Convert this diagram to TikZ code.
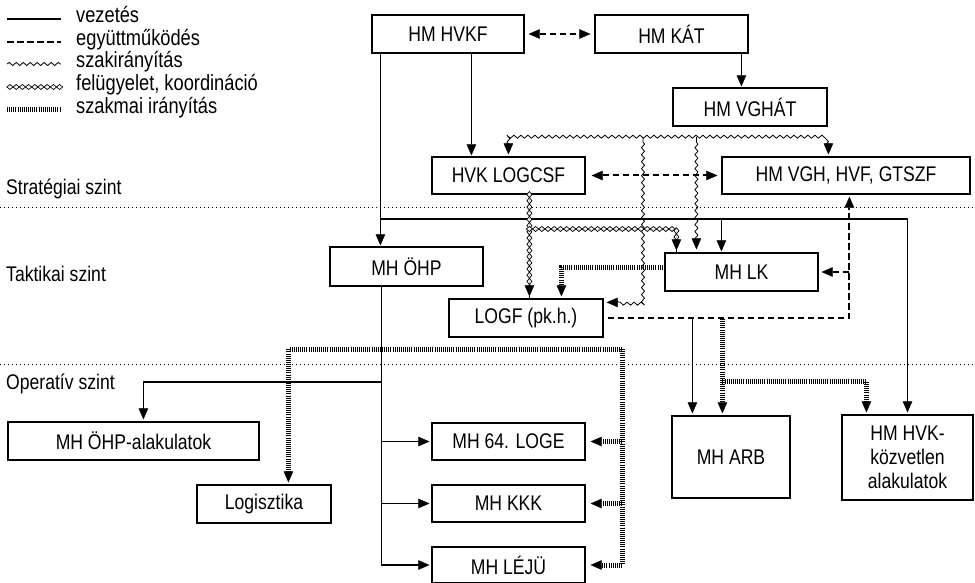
\documentclass[tikz,border=0pt]{standalone}
\usepackage{fontspec}
\setmainfont{Liberation Sans}[FakeStretch=0.83]
\usetikzlibrary{arrows.meta,decorations.pathmorphing,decorations.shapes,shapes.geometric,calc}
\begin{document}
\begin{tikzpicture}[x=1pt,y=-1pt,
  font=\fontsize{21.2}{24}\selectfont,
  >={Triangle[length=11pt,width=9.5pt,line width=0.4pt]},
  box/.style={draw, line width=1.2pt, inner sep=0pt, align=center, minimum height=38pt},
  vez/.style={line width=1.3pt},
  egy/.style={line width=2pt, dash pattern=on 6.5pt off 3.5pt},
  szak/.style={line width=0.8pt, decorate, decoration={snake, amplitude=1.5pt, segment length=7pt, pre length=5pt, post length=9pt}},
  fel/.style={line width=0.01pt, preaction={draw=black, line width=0.7pt, fill=white, decorate,
     decoration={shape backgrounds, shape=diamond, shape width=6.2pt, shape height=5pt, shape sep={6.2pt, between centers}, post length=9pt}}},
  felleg/.style={draw=black, line width=0.7pt, fill=white, decorate,
     decoration={shape backgrounds, shape=diamond, shape width=6.2pt, shape height=5pt, shape sep={6.2pt, between centers}}},
  szm/.style={line width=5pt, dash pattern=on 0.6pt off 1.5pt},
  lvl/.style={line width=0.8pt, dash pattern=on 1pt off 3pt},
  leg/.style={anchor=west, inner sep=0pt, text height=14pt, text depth=4pt},
]
\useasboundingbox (0,0) rectangle (975,583);
\fill[white] (0,0) rectangle (975,583);

% level lines
\draw[lvl] (0,207) -- (975,207);
\draw[lvl] (0,364) -- (975,364);
\node[leg] (s1) at (6,189) {Stratégiai szint};
\node[leg] (s2) at (6,276) {Taktikai szint};
\node[leg] (s3) at (6,384) {Operatív szint};

% legend
\draw[vez] (7,19) -- (61,19);
\draw[egy] (7,42) -- (61,42);
\draw[line width=0.8pt, decorate, decoration={snake, amplitude=1.5pt, segment length=7pt}] (7,64) -- (61,64);
\path[felleg] (10,87) -- (62,87);
\draw[szm] (7,110) -- (61,110);
\begin{scope}[font=\fontsize{22}{24}\selectfont]
\node[leg] (t1) at (76,18) {vezetés};
\node[leg] (t2) at (76,41) {együttműködés};
\node[leg] (t3) at (76,63) {szakirányítás};
\node[leg] (t4) at (76,86) {felügyelet, koordináció};
\node[leg] (t5) at (76,109) {szakmai irányítás};
\end{scope}

% boxes
\node[box, minimum width=152pt] (hvkf) at (448,34) {HM HVKF};
\node[box, minimum width=153pt] (kat) at (671.5,34) {HM KÁT};
\node[box, minimum width=154pt] (vghat) at (750,107) {HM VGHÁT};
\node[box, minimum width=153pt, minimum height=37pt] (logcsf) at (508.5,175.5) {HVK LOGCSF};
\node[box, minimum width=248pt, minimum height=37pt] (vgh) at (846,175.5) {HM VGH, HVF, GTSZF};
\node[box, minimum width=153pt, minimum height=39pt] (ohp) at (406.5,266.5) {MH ÖHP};
\node[box, minimum width=153pt] (lk) at (741.5,272) {MH LK};
\node[box, minimum width=154pt] (logf) at (526,318) {LOGF (pk.h.)};
\node[box, minimum width=251pt] (ohpal) at (133.5,441) {MH ÖHP-alakulatok};
\node[box, minimum width=134pt] (logi) at (264,504) {Logisztika};
\node[box, minimum width=153pt, minimum height=37pt] (loge) at (508.5,441.5) {MH 64. LOGE};
\node[box, minimum width=153pt, minimum height=37pt] (kkk) at (508.5,503.5) {MH KKK};
\node[box, minimum width=153pt, minimum height=36pt] (leju) at (508.5,565) {MH LÉJÜ};
\node[box, minimum width=118pt, minimum height=82pt] (arb) at (731,457) {MH ARB};
\node[box, minimum width=131pt, minimum height=85pt] (hvkkoz) at (907.5,457.5) {HM HVK-\\közvetlen\\alakulatok};

% helper coordinates
\coordinate (jt) at (381,219);
\coordinate (dY) at (0,229);
\coordinate (wY) at (0,137);
\coordinate (dashY) at (0,319);
\coordinate (hY) at (0,381);
\coordinate (oY) at (0,382);
\coordinate (szR) at (622,349);
\coordinate (wv1) at (643,137);
\coordinate (hvkfL) at ([xshift=9pt]hvkf.south west);
\coordinate (hvkfR) at ([xshift=100pt]hvkf.south west);
\coordinate (katB) at ([xshift=147pt]kat.south west);
\coordinate (csfD) at ([xshift=98pt]logcsf.south west);
\coordinate (csfW) at ([xshift=77pt]logcsf.north west);
\coordinate (vghW) at ([xshift=107pt]vgh.north west);
\coordinate (vghD) at ([xshift=128pt]vgh.south west);
\coordinate (lkD) at ([xshift=12pt]lk.north west);
\coordinate (lkW) at ([xshift=32pt]lk.north west);
\coordinate (lkV) at ([xshift=57pt]lk.north west);
\coordinate (ohpB) at ([xshift=52pt]ohp.south west);
\coordinate (lfS) at ([yshift=-4pt]logf.north east);
\coordinate (lfH) at ([xshift=113pt]logf.north west);
\coordinate (oaA) at ([xshift=136pt]ohpal.north west);
\coordinate (lgA) at ([xshift=92pt]logi.north west);
\coordinate (arbV) at ([xshift=21pt]arb.north west);
\coordinate (arbH) at ([xshift=51pt]arb.north west);
\coordinate (hkH) at ([xshift=25pt]hvkkoz.north west);

% vezetés
\draw[vez,->,shorten >=1pt] (hvkfL) -- (hvkfL |- ohp.north);
\draw[vez,->,shorten >=1pt] (hvkfR) -- (hvkfR |- logcsf.north);
\draw[vez,->,shorten >=1pt] (katB) -- (katB |- vghat.north);
\draw[vez,->,shorten >=2pt] (hvkfL |- jt) -| (hvkkoz.north);
\draw[vez,->,shorten >=1pt] (lkV |- jt) -- (lkV);
\draw[vez,->,shorten >=2pt] (ohpB) |- (leju.west);
\draw[vez,->,shorten >=2pt] (ohpB |- loge.west) -- (loge.west);
\draw[vez,->,shorten >=2pt] (ohpB |- kkk.west) -- (kkk.west);
\draw[vez,->,shorten >=2pt] (ohpB |- oY) -| (oaA);
\draw[vez,->,shorten >=2pt] (arbV |- dashY) -- (arbV);

% együttműködés
\draw[egy,<->,shorten <=4pt,shorten >=4pt] (hvkf.east) -- (kat.west);
\draw[egy,<->,shorten <=6pt,shorten >=4pt] (logcsf.east) -- (vgh.west);
\draw[egy,->,shorten <=4pt,shorten >=2pt] (logf.east) -| (vghD);
\draw[egy,->,shorten >=3pt] (vghD |- lk.east) -- (lk.east);

% szakirányítás
\draw[szak,<->,shorten <=2pt,shorten >=2pt] (csfW) -- (csfW |- wY) -- (vghW |- wY) -- (vghW);
\draw[szak,->,shorten >=3pt] (wv1) |- (lfS);
\draw[szak,->,shorten >=3pt] (lkW |- wY) -- (lkW);

% felügyelet, koordináció
\draw[fel,->,shorten >=2pt] (csfD) -- (csfD |- logf.north);
\draw[fel,->,shorten >=2pt] (csfD |- dY) -| (lkD);

% szakmai irányítás
\draw[szm,->,shorten >=2pt] ([yshift=5pt]lk.west) -| (lfH);
\draw[szm,->,shorten >=2pt] (arbH |- dashY) -- (arbH);
\draw[szm,->,shorten >=2pt] (arbH |- hY) -| (hkH);
\draw[szm,->,shorten >=2pt] (szR) -| (lgA);
\draw[szm,->,shorten >=5pt] (szR) |- (leju.east);
\draw[szm,->,shorten >=5pt] (szR |- loge.east) -- (loge.east);
\draw[szm,->,shorten >=5pt] (szR |- kkk.east) -- (kkk.east);
\end{tikzpicture}
\end{document}
